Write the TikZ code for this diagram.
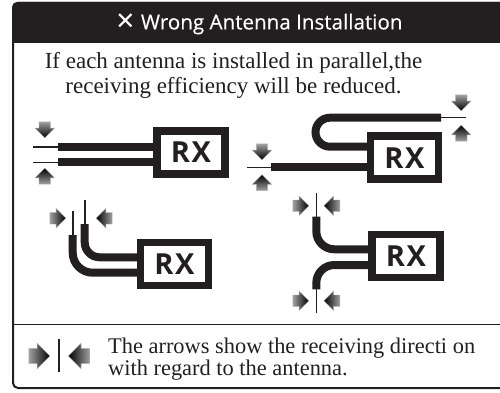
\documentclass[tikz,border=0pt]{standalone}
\usepackage{fontspec}
\setmainfont{Liberation Serif}
\setsansfont{Open Sans}
\newfontfamily\symfont{DejaVu Sans}
\usetikzlibrary{shapes.arrows}
\definecolor{inkblack}{HTML}{231F20}
\begin{document}
\begin{tikzpicture}[x=1pt,y=-1pt,
frame/.style={
draw=inkblack,
line width=2pt,
rounded corners=5pt,
minimum width=497pt,
minimum height=385pt,
inner sep=0pt,
},
title/.style={
font={\sffamily\fontsize{20.6pt}{24pt}\selectfont\addfontfeature{FakeBold=0.3}},
text=white,
inner sep=0pt,
},
body/.style={
font={\fontsize{23pt}{25pt}\selectfont},
text=inkblack,
align=center,
inner sep=0pt,
},
note/.style={
font={\fontsize{22.4pt}{21.5pt}\selectfont},
text=inkblack,
align=left,
inner sep=0pt,
anchor=west,
},
rxbox/.style={
draw=inkblack,
fill=white,
line width=7.5pt,
minimum width=68pt,
minimum height=43pt,
inner sep=0pt,
font={\sffamily\bfseries\fontsize{29pt}{29pt}\selectfont\addfontfeature{LetterSpace=6}},
text=inkblack,
},
feed/.style={
draw=inkblack,
line width=8pt,
},
whip/.style={
draw=inkblack,
line width=1.6pt,
},
wave/.style={
single arrow,
draw=gray!60,
line width=0.4pt,
minimum width=19pt,
minimum height=16pt,
single arrow head extend=4pt,
single arrow head indent=0pt,
},
wavedown/.style={wave,inner xsep=5.5pt,inner ysep=0pt,shape border rotate=270,top color=gray!75,bottom color=black},
waveup/.style={wave,inner xsep=5.5pt,inner ysep=0pt,shape border rotate=90,bottom color=gray!75,top color=black},
waveright/.style={wave,inner xsep=0pt,inner ysep=5.5pt,shape border rotate=0,left color=gray!75,right color=black},
waveleft/.style={wave,inner xsep=0pt,inner ysep=5.5pt,shape border rotate=180,right color=gray!75,left color=black},
big/.style={minimum width=25pt,minimum height=21pt,inner ysep=7.5pt,single arrow head extend=5pt},
]
\useasboundingbox (0,0) rectangle (500,393);
\node[frame] (frame) at (261.5,195.5) {};
\coordinate (headl) at (13,43);
\coordinate (headr) at (510,43);
\fill[inkblack] (headl) [rounded corners=5pt] -- (frame.north west) -- (frame.north east) [sharp corners] -- (headr) -- cycle;
\node[title] (head) at (259,24) {{\symfont\fontsize{24pt}{24pt}\selectfont ✕} Wrong Antenna Installation};
\node[body] (intro) at (233.5,75) {If each antenna is installed in parallel,the\\receiving efficiency will be reduced.};

\node[rxbox] (rxa) at (191,152.5) {RX};
\coordinate (a1) at (33,146.7);
\coordinate (a1k) at (58,146.7);
\coordinate (a2) at (33,162.3);
\coordinate (a2k) at (58,162.3);
\draw[whip] (a1) -- (a1k);
\draw[whip] (a2) -- (a2k);
\draw[feed] (a1k) -- (a1k -| rxa.west);
\draw[feed] (a2k) -- (a2k -| rxa.west);
\node[wavedown] (a1w) at (44.7,127) {};
\node[waveup] (a2w) at (44.7,179) {};

\node[rxbox] (rxb) at (404.5,157.7) {RX};
\coordinate (b1) at (465.7,117.7);
\coordinate (b1k) at (441,117.7);
\coordinate (b1c) at (315.5,146.7);
\coordinate (b2) at (246.7,167.3);
\coordinate (b2k) at (271,167.3);
\draw[whip] (b1) -- (b1k);
\draw[whip] (b2) -- (b2k);
\draw[feed,rounded corners=14.5pt] (b1k) -| (b1c) -- (b1c -| rxb.west);
\draw[feed] (b2k) -- (b2k -| rxb.west);
\node[wavedown] (b1d) at (461.3,100) {};
\node[waveup] (b1u) at (461.3,136) {};
\node[wavedown] (b2d) at (262,149) {};
\node[waveup] (b2u) at (262,185.5) {};

\node[rxbox] (rxc) at (174.5,264) {RX};
\coordinate (c1) at (72.7,211);
\coordinate (c1k) at (72.7,235);
\coordinate (c1e) at (137,272.7);
\coordinate (c2) at (84.7,200);
\coordinate (c2k) at (84.7,224);
\coordinate (c2e) at (137,257.3);
\draw[whip] (c1) -- (c1k);
\draw[whip] (c2) -- (c2k);
\draw[feed,rounded corners=20pt] (c1k) |- (c1e);
\draw[feed,rounded corners=15pt] (c2k) |- (c2e);
\node[waveright] (c1w) at (55,218.3) {};
\node[waveleft] (c2w) at (107,218.3) {};

\node[rxbox] (rxd) at (406,256) {RX};
\coordinate (d1) at (316.3,193.3);
\coordinate (d1k) at (316.3,216.7);
\coordinate (d1e) at (368.3,249.3);
\coordinate (d2) at (316.3,313.3);
\coordinate (d2k) at (316.3,289.3);
\coordinate (d2e) at (368.3,265);
\draw[whip] (d1) -- (d1k);
\draw[whip] (d2) -- (d2k);
\draw[feed,rounded corners=18pt] (d1k) |- (d1e);
\draw[feed,rounded corners=18pt] (d2k) |- (d2e);
\node[waveright] (d1r) at (298,205.7) {};
\node[waveleft] (d1l) at (334.7,205.7) {};
\node[waveright] (d2r) at (298,300.7) {};
\node[waveleft] (d2l) at (334.7,300.7) {};

\coordinate (rulel) at (13,324.3);
\coordinate (ruler) at (510,324.3);
\draw[inkblack,line width=1.2pt] (rulel) -- (ruler);
\coordinate (keya) at (59.3,339);
\coordinate (keyb) at (59.3,372);
\draw[whip,line width=2pt] (keya) -- (keyb);
\node[waveright,big] (keyr) at (35.5,356) {};
\node[waveleft,big] (keyl) at (82.8,356) {};
\node[note] (keynote) at (108,359) {The arrows show the receiving directi on\\with regard to the antenna.};
\end{tikzpicture}
\end{document}
